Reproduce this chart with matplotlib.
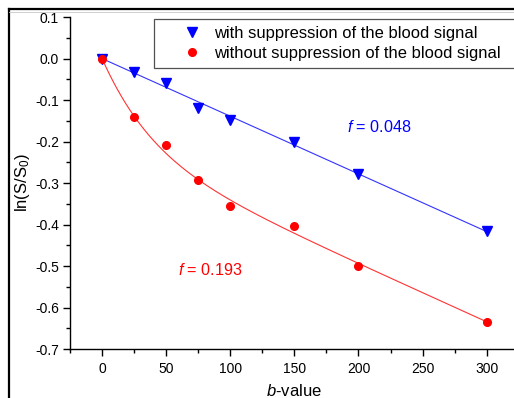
import matplotlib
matplotlib.use("Agg")
import matplotlib.pyplot as plt
import numpy as np
from matplotlib.lines import Line2D
from matplotlib.ticker import MultipleLocator

plt.rcParams['font.family'] = ['Liberation Sans', 'DejaVu Sans']
plt.rcParams['mathtext.fontset'] = 'custom'
plt.rcParams['mathtext.rm'] = 'Liberation Sans'
plt.rcParams['mathtext.it'] = 'Liberation Sans:italic'

# data
b_values = [0, 25, 50, 75, 100, 150, 200, 300]
with_supp = [0.0, -0.033, -0.060, -0.120, -0.148, -0.200, -0.278, -0.416]
without_supp = [0.0, -0.141, -0.209, -0.292, -0.356, -0.403, -0.500, -0.635]

label_with = "with suppression of the blood signal"
label_without = "without suppression of the blood signal"

# fit parameters (biexponential IVIM model for the red curve)
f_with = 0.048
f_without = 0.193
D_without = 0.0014
Dstar_without = 0.03

x = np.array(b_values, dtype=float)
y_blue = np.array(with_supp)
slope = np.sum(x * y_blue) / np.sum(x * x)

bfit = np.linspace(0, 300, 300)
red_fit = np.log(f_without * np.exp(-bfit * Dstar_without)
                 + (1 - f_without) * np.exp(-bfit * D_without))
blue_fit = slope * bfit

fig = plt.figure(figsize=(5.14, 3.98), dpi=100)
ax = fig.add_axes([0.1362, 0.1231, 0.873, 0.834])

ax.plot(bfit, blue_fit, color='#3333ff', lw=0.8)
ax.plot(bfit, red_fit, color='#ff3333', lw=0.8)
ax.plot(b_values, with_supp, 'v', color='#0000ff', ms=7.5, label=label_with)
ax.plot(b_values, without_supp, 'o', color='#ff0000', ms=5.5, label=label_without)

ax.text(216, -0.164, r'$f$ = %.3f' % f_with, color='#0000ff', fontsize=11.6,
        ha='center', va='center')
ax.text(84, -0.51, r'$f$ = %.3f' % f_without, color='#ff0000', fontsize=11.6,
        ha='center', va='center')

ax.set_xlim(-25, 325)
ax.set_ylim(-0.7, 0.1)
ax.xaxis.set_major_locator(MultipleLocator(50))
ax.xaxis.set_minor_locator(MultipleLocator(25))
ax.yaxis.set_major_locator(MultipleLocator(0.1))
ax.yaxis.set_minor_locator(MultipleLocator(0.05))
ax.yaxis.set_major_formatter(plt.FuncFormatter(lambda v, p: '%.1f' % v))
ax.spines['top'].set_visible(False)
for s in ax.spines.values():
    s.set_linewidth(1.0)
ax.tick_params(which='major', direction='out', length=5, width=1, labelsize=10)
ax.tick_params(axis='x', which='major', pad=4.5)
ax.tick_params(axis='y', which='major', pad=3)
ax.tick_params(which='minor', direction='out', length=3, width=1)

ax.set_xlabel(r'$b$-value', fontsize=12, labelpad=5)
ax.set_ylabel(r'ln(S/S$_0$)', fontsize=12, labelpad=2)

leg = ax.legend(loc='upper left', bbox_to_anchor=(0.187, 0.893, 0.82, 0.1),
                mode='expand', fontsize=11.9, frameon=True, fancybox=False,
                edgecolor='#505050', framealpha=1, handletextpad=-0.57,
                labelspacing=0.3, borderpad=0.4, handlelength=3.8,
                borderaxespad=0)
leg.get_frame().set_linewidth(0.9)

# outer page frame
fig.add_artist(Line2D([0.0175, 0.0175], [0.0, 0.977], transform=fig.transFigure,
                      color='black', lw=1.6))
fig.add_artist(Line2D([0.0175, 1.0], [0.977, 0.977], transform=fig.transFigure,
                      color='black', lw=1.6))
fig.add_artist(Line2D([0.0175, 1.0], [0.969, 0.969], transform=fig.transFigure,
                      color='#c8c8c8', lw=0.6))

fig.savefig('out.png', dpi=100)
